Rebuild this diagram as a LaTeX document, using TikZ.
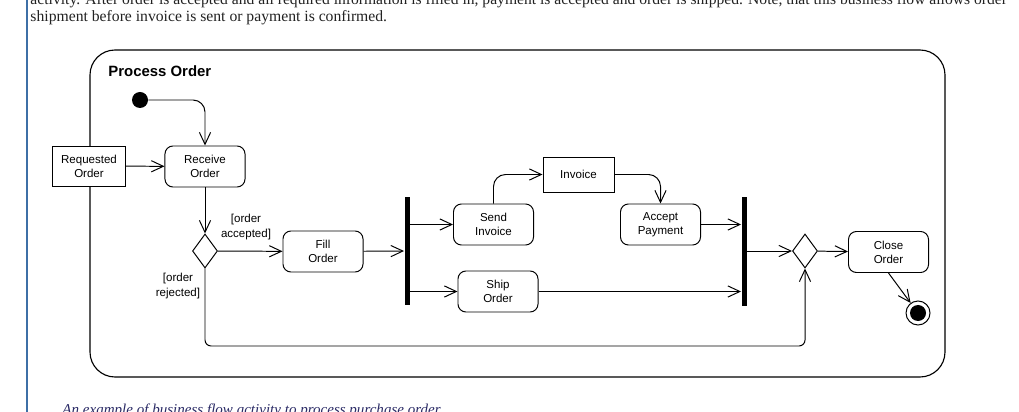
\documentclass[tikz,border=0pt]{standalone}
\usepackage{fontspec}
\setmainfont{Liberation Serif}
\newfontfamily\diagfont{Liberation Sans}
\usetikzlibrary{shapes.geometric,arrows.meta}
\definecolor{pagetext}{HTML}{222222}
\definecolor{captext}{HTML}{2B2B66}
\definecolor{pagerule}{HTML}{3D6FA6}

\tikzset{
  diag/.style={font=\diagfont\fontsize{8.2}{10}\selectfont},
  action/.style={diag, draw, fill=white, rounded corners=0.2cm, minimum width=2cm, minimum height=1.025cm, align=center, inner sep=0},
  object/.style={diag, draw, fill=white, minimum width=1.8cm, minimum height=1cm, align=center, inner sep=0},
  bar/.style={fill=black, inner sep=0, minimum width=0.125cm, minimum height=2.7cm},
  choice/.style={diamond, draw, fill=white, inner sep=0, minimum width=0.625cm, minimum height=0.85cm},
  guard/.style={diag, align=center, inner sep=0},
  flow/.style={-{Straight Barb[length=0.3cm,width=0.28cm]}},
  pagefont/.style={font=\fontsize{11.15}{13}\selectfont, text=pagetext, inner sep=0, anchor=base west},
}

\begin{document}
\begin{tikzpicture}[x=0.025cm, y=-0.025cm, line width=0.7pt]
        \useasboundingbox (0,0) rectangle (1019,412);
        \clip (0,0) rectangle (1019,412);
        \fill[white] (0,0) rectangle (1019,412);

        \draw[pagerule, line width=0.8pt] (27,0)--(27,412);
        \node[pagefont, font=\fontsize{11.1}{13}\selectfont] (line1) at (30,5) {activity. After order is accepted and all required information is filled in, payment is accepted and order is shipped. Note, that this business flow allows order};
        \node[pagefont] (line2) at (30,22) {shipment before invoice is sent or payment is confirmed.};
        \node[pagefont, text=captext, font=\itshape\fontsize{10.7}{13}\selectfont] (caption) at (62,414) {An example of business flow activity to process purchase order.};

        \draw[rounded corners=0.625cm, line width=0.8pt] (90,50) rectangle (945,377);
        \node[font=\diagfont\bfseries\fontsize{10.6}{12}\selectfont, anchor=base west, inner sep=0] (title) at (108,76.5) {Process Order};

        \node[circle, fill=black, inner sep=0, minimum size=0.4cm] (start) at (140,100) {};
        \node[object] (req) at (89,166) {Requested\\Order};
        \node[action] (recv) at (205,166.5) {Receive\\Order};
        \node[choice] (decide) at (205,251) {};
        \node[guard] (acc) at (246,227) {[order\\accepted]};
        \node[guard] (rej) at (178,286) {[order\\rejected]};
        \node[action] (fill) at (323,251.5) {Fill\\Order};
        \node[bar] (fork) at (407,251) {};
        \node[action] (send) at (493.5,224.5) {Send\\Invoice};
        \node[action] (ship) at (498,291.5) {Ship\\Order};
        \node[object, minimum width=1.775cm, minimum height=0.875cm] (inv) at (578.5,174.5) {Invoice};
        \node[action] (accept) at (660.5,224.5) {Accept\\Payment};
        \node[bar] (join) at (744,251.5) {};
        \node[choice] (merge) at (805,251) {};
        \node[action] (close) at (888.5,252) {Close\\Order};
        \node[circle, draw, fill=white, inner sep=0, minimum size=0.6cm] (final) at (918,313) {};
        \fill (final.center) circle[radius=0.2cm];
        \coordinate (back) at (500,346);

        \draw[flow, rounded corners=0.3cm] (start) -| (recv);
        \draw[flow] (req) -- (recv);
        \draw[flow] (recv) -- (decide);
        \draw[flow] (decide) -- (fill);
        \draw[flow] (fill) -- (fork);
        \draw[flow] (fork.east |- send.west) -- (send);
        \draw[flow] (fork.east |- ship.west) -- (ship);
        \draw[flow, rounded corners=0.3cm] (send.north) |- (inv.west);
        \draw[flow, rounded corners=0.3cm] (inv.east) -| (accept.north);
        \draw[flow] (accept.east) -- (join.west |- accept.east);
        \draw[flow] (ship.east) -- (join.west |- ship.east);
        \draw[flow] (join.east |- merge.west) -- (merge);
        \draw[flow] (merge) -- (close);
        \draw[flow] (close.south) -- (final);
        \draw[flow, rounded corners=0.15cm] (decide.south) |- (back) -| (merge.south);
    \end{tikzpicture}
\end{document}
